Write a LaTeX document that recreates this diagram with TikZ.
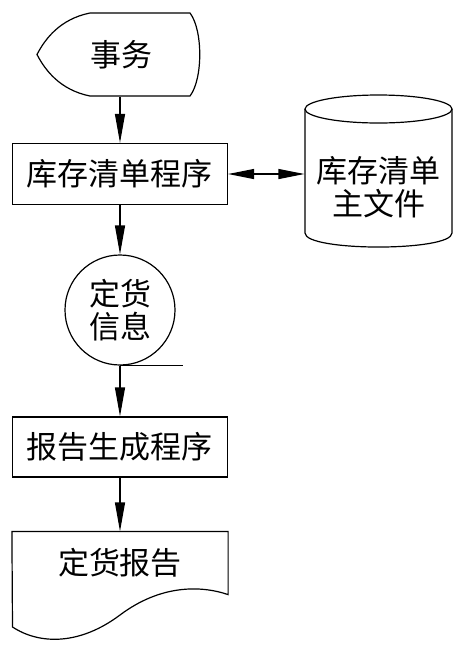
\documentclass[tikz,border=0pt]{standalone}
\usepackage{fontspec}
\newfontfamily\cjk{Noto Sans CJK SC}
\usetikzlibrary{arrows.meta}

\begin{document}
\begin{tikzpicture}[x=1pt,y=-1pt,line width=1.2pt,
every node/.style={font=\cjk\fontsize{31}{33}\selectfont,align=center,inner sep=0pt},
proc/.style={draw,minimum width=215pt,minimum height=61pt},
flow/.style={-{Triangle[length=29pt,width=10pt]}},
both/.style={{Triangle[length=26pt,width=10pt]}-{Triangle[length=26pt,width=10pt]}}]
\useasboundingbox (0,0) rectangle (459,649);
\node (trans) [minimum height=83pt] at (121,54.5) {事务};
\draw (90,13) -- (190,13) .. controls (203,30) and (203,79) .. (190,96) -- (90,96)
  .. controls (60,90) and (45,70) .. (37,54.5) .. controls (45,39) and (60,19) .. (90,13) -- cycle;
\node (stock) [proc] at (120,174) {库存清单程序};
\node (file) [minimum width=147pt] at (378.5,187) {库存清单\\主文件};
\draw (378.5,109) ellipse [x radius=73.5pt,y radius=14pt];
\draw (305,109) -- (305,233) .. controls (305,251.7) and (452,251.7) .. (452,233) -- (452,109);
\node (order) [draw,circle,minimum size=110pt] at (120,310) {定货\\信息};
\draw (order.south) -- ++(63,0);
\node (gen) [proc,minimum height=60pt] at (120,447) {报告生成程序};
\node (report) [minimum width=215pt,minimum height=62pt] at (120,563) {定货报告};
\draw (report.north west) -- (report.north east) -- (report.south east)
  .. controls (200,585) and (160,585) .. (120,615) .. controls (80,645) and (40,645) .. (12.5,627) -- cycle;
\draw[flow] (trans.south -| stock.north) -- (stock.north);
\draw[both] (stock.east) -- (stock.east -| file.west);
\draw[flow] (stock.south) -- (order.north);
\draw[flow] (order.south) -- (gen.north);
\draw[flow] (gen.south) -- (report.north);
\end{tikzpicture}
\end{document}
